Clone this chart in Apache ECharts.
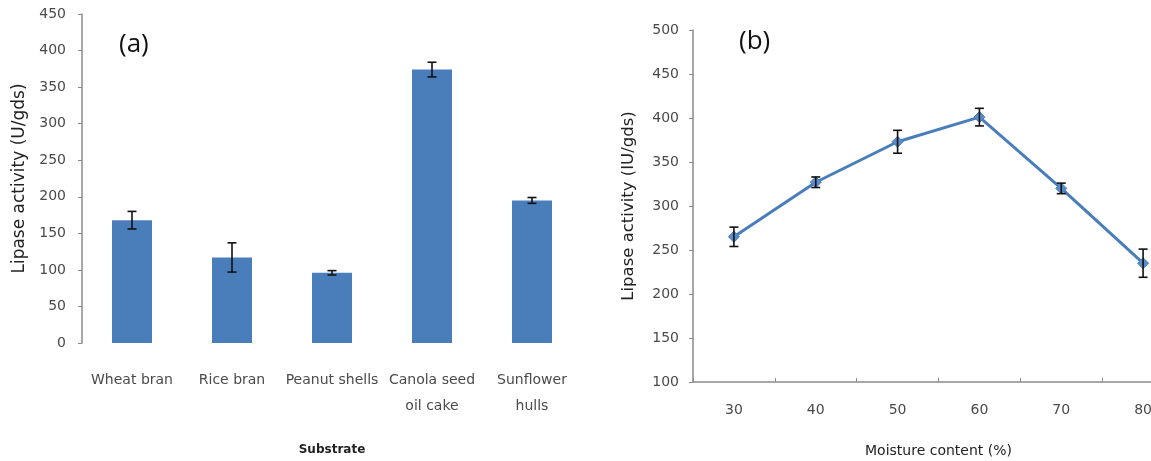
<!DOCTYPE html>
<html>
<head>
<meta charset="utf-8">
<script src="https://cdn.jsdelivr.net/npm/echarts@6/dist/echarts.min.js"></script>
<style>
  html, body { margin: 0; padding: 0; background: #fff; }
  #chart { width: 1151px; height: 461px; }
</style>
</head>
<body>
<div id="chart"></div>
<script>
// (a) lipase activity by substrate
const substrates = ['Wheat bran', 'Rice bran', 'Peanut shells', 'Canola seed\noil cake', 'Sunflower\nhulls'];
const substrateActivity = [168, 117, 96, 374, 195];
const substrateError = [12, 20, 3, 10, 4];
const activityTicksA = { min: 0, max: 450, interval: 50 };

// (b) lipase activity by moisture content
const moisture = ['30', '40', '50', '60', '70', '80'];
const moistureActivity = [265, 327, 373, 401, 320, 235];
const moistureError = [11, 6, 13, 10, 6, 16];
const activityTicksB = { min: 100, max: 500, interval: 50 };

const FONT = 'DejaVu Sans';
const BLUE = '#4a7ebb';

// Error bars: vertical whisker with horizontal caps, placed through the axes
function errorBarItem(params, api) {
  const x = api.value(0);
  const top = api.coord([x, api.value(2)]);
  const bot = api.coord([x, api.value(1)]);
  const half = 4.5;
  const style = { stroke: '#111', lineWidth: 1.6 };
  return {
    type: 'group',
    children: [
      { type: 'line', shape: { x1: top[0], y1: top[1], x2: bot[0], y2: bot[1] }, style },
      { type: 'line', shape: { x1: top[0] - half, y1: top[1], x2: top[0] + half, y2: top[1] }, style },
      { type: 'line', shape: { x1: bot[0] - half, y1: bot[1], x2: bot[0] + half, y2: bot[1] }, style }
    ]
  };
}

function errorData(values, errors) {
  return values.map((v, i) => [i, v - errors[i], v + errors[i]]);
}

const tickLabel = { fontFamily: FONT, fontSize: 14, color: '#4a4a4a' };
const titleText = { fontFamily: FONT, fontSize: 17, color: '#222' };

const chart = echarts.init(document.getElementById('chart'), null, { renderer: 'canvas' });
chart.setOption({
  animation: false,
  backgroundColor: '#fff',
  grid: [
    { left: 82, top: 14, width: 500, bottom: 118, outerBoundsMode: 'none' },
    // the moisture plot runs past the right edge of the page
    { left: 693, top: 30, right: -33, bottom: 79, outerBoundsMode: 'none' }
  ],
  xAxis: [
    {
      gridIndex: 0, type: 'category', data: substrates,
      axisLine: { show: false }, axisTick: { show: false },
      axisLabel: Object.assign({}, tickLabel, { margin: 24, lineHeight: 26, interval: 0 }),
      name: 'Substrate', nameLocation: 'middle', nameGap: 101,
      nameTextStyle: Object.assign({}, titleText, { fontSize: 12, fontWeight: 'bold' })
    },
    {
      gridIndex: 1, type: 'category', data: moisture, boundaryGap: true,
      axisLine: { show: true, lineStyle: { color: '#8a8a8a', width: 1.5 } },
      axisTick: { show: true, inside: true, length: 4, lineStyle: { color: '#8a8a8a' } },
      axisLabel: Object.assign({}, tickLabel, { margin: 21 }),
      name: 'Moisture content (%)', nameLocation: 'middle', nameGap: 62,
      nameTextStyle: Object.assign({}, titleText, { fontSize: 14 })
    }
  ],
  yAxis: [
    {
      gridIndex: 0, type: 'value',
      min: activityTicksA.min, max: activityTicksA.max, interval: activityTicksA.interval,
      axisLine: { show: true, lineStyle: { color: '#8a8a8a', width: 1.5 } },
      axisTick: { show: true, length: 4, lineStyle: { color: '#8a8a8a' } },
      splitLine: { show: false },
      axisLabel: Object.assign({}, tickLabel, { margin: 16 }),
      name: 'Lipase activity (U/gds)', nameLocation: 'middle', nameGap: 54,
      nameTextStyle: titleText
    },
    {
      gridIndex: 1, type: 'value',
      min: activityTicksB.min, max: activityTicksB.max, interval: activityTicksB.interval,
      axisLine: { show: true, lineStyle: { color: '#8a8a8a', width: 1.5 } },
      axisTick: { show: true, length: 4, lineStyle: { color: '#8a8a8a' } },
      splitLine: { show: false },
      axisLabel: Object.assign({}, tickLabel, { margin: 14 }),
      name: 'Lipase activity (IU/gds)', nameLocation: 'middle', nameGap: 56,
      nameTextStyle: Object.assign({}, titleText, { fontSize: 16.5 })
    }
  ],
  series: [
    {
      type: 'bar', xAxisIndex: 0, yAxisIndex: 0,
      data: substrateActivity, barWidth: '40%',
      itemStyle: { color: BLUE }
    },
    {
      type: 'custom', xAxisIndex: 0, yAxisIndex: 0, z: 5,
      renderItem: errorBarItem, encode: { x: 0, y: [1, 2] },
      data: errorData(substrateActivity, substrateError)
    },
    {
      type: 'line', xAxisIndex: 1, yAxisIndex: 1,
      data: moistureActivity,
      symbol: 'diamond', symbolSize: 11,
      lineStyle: { color: BLUE, width: 3 },
      itemStyle: { color: '#5a8ccc', borderColor: BLUE, borderWidth: 1 }
    },
    {
      type: 'custom', xAxisIndex: 1, yAxisIndex: 1, z: 5,
      renderItem: errorBarItem, encode: { x: 0, y: [1, 2] },
      data: errorData(moistureActivity, moistureError)
    }
  ],
  graphic: [
    { type: 'text', left: 119, top: 32, style: { text: '(a)', font: '26px "Open Sans"', fill: '#111' } },
    { type: 'text', left: 739, top: 29, style: { text: '(b)', font: '26px "Open Sans"', fill: '#111' } }
  ]
});
</script>
</body>
</html>
